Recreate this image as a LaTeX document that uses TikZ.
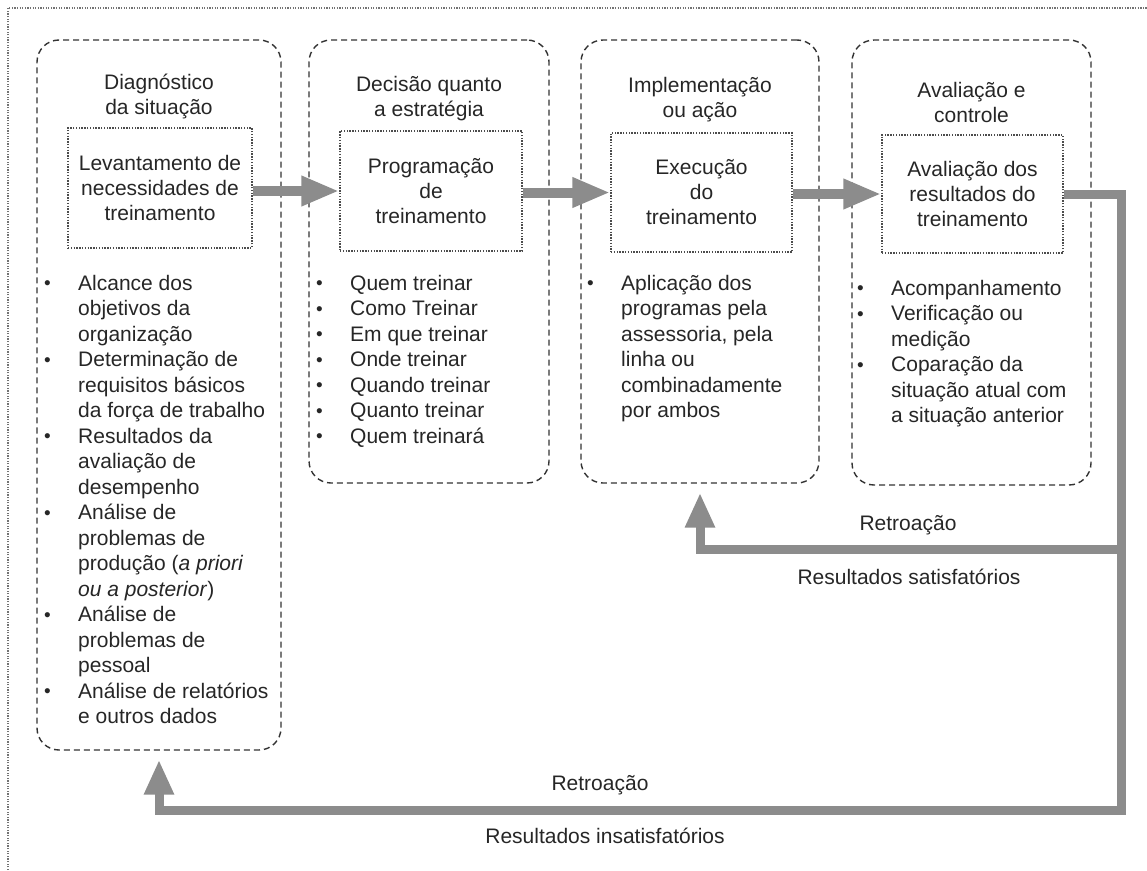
\documentclass[tikz,border=0pt]{standalone}
\usepackage{fontspec}
\setmainfont{Liberation Sans}
\usetikzlibrary{arrows.meta}
\newcommand\bul{\makebox[34pt][l]{\raisebox{0.5pt}{\fontsize{19}{19}\selectfont\textbullet}}}
\begin{document}
\begin{tikzpicture}[x=1pt,y=-1pt,
  colbox/.style={draw=black!80, line width=1.4pt, dash pattern=on 6pt off 4pt,
    rounded corners=22pt, rectangle, inner sep=0pt},
  innerbox/.style={draw=black!70, line width=1.4pt, dash pattern=on 1.4pt off 1.4pt,
    rectangle, inner sep=0pt, align=center, text=black!85,
    font=\fontsize{21}{25}\selectfont},
  title/.style={align=center, inner sep=0pt, text=black!85,
    font=\fontsize{21}{25}\selectfont},
  listtext/.style={anchor=north west, inner sep=0pt, text=black!85,
    font=\fontsize{21}{25.5}\selectfont},
  lbl/.style={inner sep=0pt, text=black!85, font=\fontsize{21}{25}\selectfont},
  fatarrow/.style={line width=10pt, draw=black!45, -{Triangle[length=38pt,width=28pt]}},
  looparrow/.style={line width=9pt, draw=black!45, line join=miter,
    -{Triangle[length=35pt,width=28pt]}},
  borderline/.style={draw=black!55, line width=1.3pt, dash pattern=on 1.3pt off 1.3pt}
]
\useasboundingbox (0,0) rectangle (1147,870);
\draw[borderline] (8,870) -- (8,8) -- (1147,8);

% columns
\node[colbox, minimum width=244pt, minimum height=710pt] (c1) at (159,395) {};
\node[colbox, minimum width=240pt, minimum height=443pt] (c2) at (429,261.5) {};
\node[colbox, minimum width=238pt, minimum height=443pt] (c3) at (700,261.5) {};
\node[colbox, minimum width=239pt, minimum height=445pt] (c4) at (971.5,262.5) {};

% titles
\node[title] (t1) at (159,96) {Diagnóstico\\da situação};
\node[title] (t2) at (429,99) {Decisão quanto\\a estratégia};
\node[title] (t3) at (700,100) {Implementação\\ou ação};
\node[title] (t4) at (971.5,102) {Avaliação e\\controle};

% inner boxes
\node[innerbox, minimum width=184pt, minimum height=120pt] (b1) at (160,188) {Levantamento de\\necessidades de\\treinamento};
\node[innerbox, minimum width=182pt, minimum height=120pt] (b2) at (431,191) {Programação\\de\\treinamento};
\node[innerbox, minimum width=181pt, minimum height=119pt] (b3) at (701.5,192.5) {Execução\\do\\treinamento};
\node[innerbox, minimum width=181pt, minimum height=118pt] (b4) at (972.5,194) {Avaliação dos\\resultados do\\treinamento};

% lists
\node[listtext] (l1) at (44,272) {\begin{tabular}{@{}l@{}l@{}}
\bul & Alcance dos\\
 & objetivos da\\
 & organização\\
\bul & Determinação de\\
 & requisitos básicos\\
 & da força de trabalho\\
\bul & Resultados da\\
 & avaliação de\\
 & desempenho\\
\bul & Análise de\\
 & problemas de\\
 & produção (\textit{a priori}\\
 & \textit{ou a posterior})\\
\bul & Análise de\\
 & problemas de\\
 & pessoal\\
\bul & Análise de relatórios\\
 & e outros dados
\end{tabular}};
\node[listtext] (l2) at (316,272) {\begin{tabular}{@{}l@{}l@{}}
\bul & Quem treinar\\
\bul & Como Treinar\\
\bul & Em que treinar\\
\bul & Onde treinar\\
\bul & Quando treinar\\
\bul & Quanto treinar\\
\bul & Quem treinará
\end{tabular}};
\node[listtext] (l3) at (587,272) {\begin{tabular}{@{}l@{}l@{}}
\bul & Aplicação dos\\
 & programas pela\\
 & assessoria, pela\\
 & linha ou\\
 & combinadamente\\
 & por ambos
\end{tabular}};
\node[listtext] (l4) at (857,277) {\begin{tabular}{@{}l@{}l@{}}
\bul & Acompanhamento\\
\bul & Verificação ou\\
 & medição\\
\bul & Coparação da\\
 & situação atual com\\
 & a situação anterior
\end{tabular}};

% forward arrows
\draw[fatarrow] (b1.east |- b2.west) -- (b2.west);
\draw[fatarrow] (b2.east |- b3.west) -- (b3.west);
\draw[fatarrow] (b3.east |- b4.west) -- (b4.west);

% feedback loops
\coordinate (rc) at (1121,194);
\coordinate (rs) at (1121,549);
\coordinate (rb) at (1121,810);
\draw[looparrow] (b4.east) -- (rc) -- (rb) -- (c1.south |- rb) -- ([yshift=-9pt]c1.south);
\draw[looparrow] (rs) -- (c3.south |- rs) -- ([yshift=-9pt]c3.south);

% labels
\node[lbl] (r1) at (908,525) {Retroação};
\node[lbl] (s1) at (909,577) {Resultados satisfatórios};
\node[lbl] (r2) at (600,785) {Retroação};
\node[lbl] (s2) at (605,836) {Resultados insatisfatórios};
\end{tikzpicture}
\end{document}
